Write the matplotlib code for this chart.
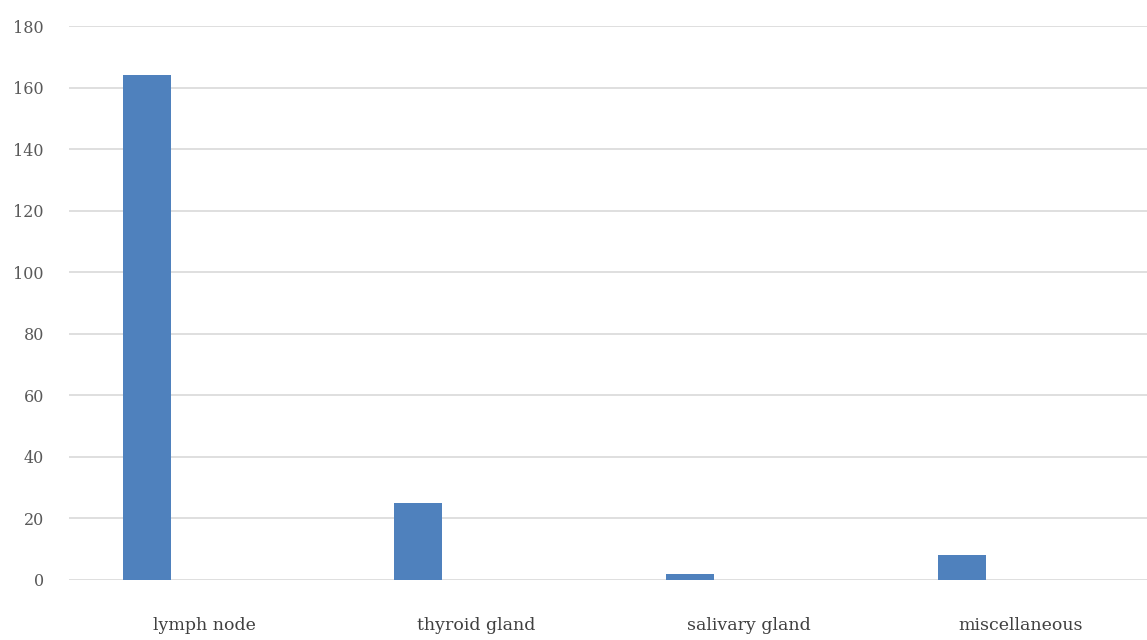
import numpy as np
import matplotlib.pyplot as plt

sites = ["lymph node", "thyroid gland", "salivary gland", "miscellaneous"]
counts = [164, 25, 2, 8]
yticks = [0, 20, 40, 60, 80, 100, 120, 140, 160, 180]

plt.rcParams['font.family'] = ['DejaVu Serif']

fig = plt.figure(figsize=(11.47, 6.4), dpi=100)
ax = fig.add_axes([0.060, 0.094, 0.948, 0.865])

x = np.arange(len(sites))
ax.bar(x - 0.214, counts, width=0.177, color="#4f81bd", zorder=3)

ax.set_xlim(-0.5, len(sites) - 0.5)
ax.set_ylim(0, 180)
ax.set_yticks(yticks)
ax.set_xticks(x)
ax.set_xticklabels(sites, fontsize=12.5, color="#404040")
ax.tick_params(axis="y", labelsize=11.5, labelcolor="#595959", length=0, pad=18)
ax.tick_params(axis="x", length=0, pad=27)
ax.grid(axis="y", color="#d9d9d9", linewidth=1.2, zorder=0)
for s in ax.spines.values():
    s.set_visible(False)

fig.savefig("out.png", dpi=100)
